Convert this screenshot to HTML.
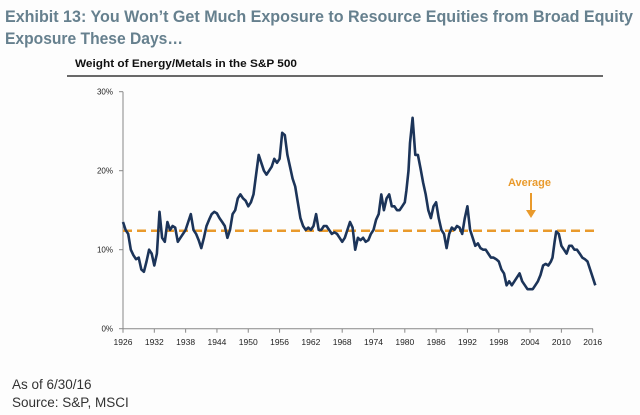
<!DOCTYPE html>
<html><head><meta charset="utf-8"><style>
body{margin:0;background:#fdfdfd;width:640px;height:415px;overflow:hidden;font-family:"Liberation Sans",sans-serif;}
svg{position:absolute;left:0;top:0}
</style></head><body>
<svg width="640" height="415">
<text x="5" y="22" font-size="16.5" font-weight="bold" fill="#66808e" textLength="628" lengthAdjust="spacingAndGlyphs">Exhibit 13: You Won’t Get Much Exposure to Resource Equities from Broad Equity</text>
<text x="5" y="44" font-size="16.5" font-weight="bold" fill="#66808e" textLength="178" lengthAdjust="spacingAndGlyphs">Exposure These Days…</text>
<text x="75" y="67" font-size="11" font-weight="bold" fill="#111" textLength="222" lengthAdjust="spacingAndGlyphs">Weight of Energy/Metals in the S&amp;P 500</text>
<line x1="67" y1="76" x2="603" y2="76" stroke="#111" stroke-width="1.3"/>
<g id="axes"></g>
<g id="plot"></g>
<text x="508" y="186" font-size="11" font-weight="bold" fill="#e99a2c">Average</text>
<line x1="531" y1="193" x2="531" y2="212" stroke="#e99a2c" stroke-width="2"/>
<polygon points="526,210 536,210 531,218" fill="#e99a2c"/>
<text x="12" y="389" font-size="13.5" fill="#333">As of 6/30/16</text>
<text x="12" y="407" font-size="13.5" fill="#333">Source: S&amp;P, MSCI</text>
</svg>
<script>
const years=[1926,1926.5,1927,1927.5,1928,1928.5,1929,1929.5,1930,1930.5,1931,1931.5,1932,1932.5,1933,1933.5,1934,1934.5,1935,1935.5,1936,1936.5,1937,1937.5,1938,1938.5,1939,1939.5,1940,1940.5,1941,1941.5,1942,1942.5,1943,1943.5,1944,1944.5,1945,1945.5,1946,1946.5,1947,1947.5,1948,1948.5,1949,1949.5,1950,1950.5,1951,1951.5,1952,1952.5,1953,1953.5,1954,1954.5,1955,1955.5,1956,1956.5,1957,1957.5,1958,1958.5,1959,1959.5,1960,1960.5,1961,1961.5,1962,1962.5,1963,1963.5,1964,1964.5,1965,1965.5,1966,1966.5,1967,1967.5,1968,1968.5,1969,1969.5,1970,1970.5,1971,1971.5,1972,1972.5,1973,1973.5,1974,1974.5,1975,1975.5,1976,1976.5,1977,1977.5,1978,1978.5,1979,1979.5,1980,1980.3,1980.7,1981,1981.5,1982,1982.5,1983,1983.5,1984,1984.5,1985,1985.5,1986,1986.5,1987,1987.5,1988,1988.5,1989,1989.5,1990,1990.5,1991,1991.5,1992,1992.5,1993,1993.5,1994,1994.5,1995,1995.5,1996,1996.5,1997,1997.5,1998,1998.5,1999,1999.5,2000,2000.5,2001,2001.5,2002,2002.5,2003,2003.5,2004,2004.5,2005,2005.5,2006,2006.5,2007,2007.5,2008,2008.3,2008.7,2009,2009.5,2010,2010.5,2011,2011.5,2012,2012.5,2013,2013.5,2014,2014.5,2015,2015.5,2016,2016.5];
const weights=[13.5,12.5,12,10,9.3,8.8,9,7.5,7.2,8.5,10,9.5,8,9.5,14.8,11.5,11,13.5,12.5,13,12.8,11,11.5,12,12.5,13.5,14.5,12.5,12,11.2,10.2,11.5,13,13.8,14.5,14.8,14.6,14,13.5,13,11.5,12.5,14.5,15,16.5,17,16.5,16.2,15.5,16,17,19.5,22,21,20,19.5,20,20.5,21.5,21,21.5,24.8,24.5,22,20.5,19,18,16,14,13,12.5,12.8,12.5,13,14.5,12.5,12.5,13,13,12.5,12,12.2,12,11.5,11,11.5,12.5,13.5,12.8,10,11.5,11.2,11.5,11,11.2,12,12.5,13.8,14.5,17,15,16.5,17,15.5,15.5,15,15,15.5,16,17.5,20,23.5,26.7,22,22,20.3,18.5,17,15,14,15.5,16,14,12.5,12,10.2,12,12.8,12.5,13,12.8,12,14,15.5,12.5,11.5,10.5,10.8,10.2,10,10,9.5,9,9,8.8,8.5,7.5,7,5.5,6,5.5,6,6.5,7,6,5.5,5,5,5,5.5,6,6.8,8,8.2,8,8.5,9,11,12.3,12,10.5,10,9.5,10.5,10.5,10,10,9.5,9,8.8,8.5,7.5,6.5,5.5,5.2,6];
const average=[12.4];
const yTicks=[0,10,20,30];
const xTicks=[1926,1932,1938,1944,1950,1956,1962,1968,1974,1980,1986,1992,1998,2004,2010,2016];
const X=y=>123+(y-1926)*(592.7-123)/90;
const Y=v=>328.7-v*7.9;
const NS="http://www.w3.org/2000/svg";
function mk(tag,attrs,parent,txt){const e=document.createElementNS(NS,tag);for(const k in attrs)e.setAttribute(k,attrs[k]);if(txt!=null)e.textContent=txt;parent.appendChild(e);return e;}
const ax=document.getElementById('axes'),pl=document.getElementById('plot');
let e=mk('line',{x1:123,y1:Y(30),x2:123,y2:Y(0),stroke:'#888','stroke-width':1},ax);


e=mk('line',{x1:123,y1:Y(0),x2:593,y2:Y(0),stroke:'#888','stroke-width':1},ax);


yTicks.forEach(t=>{
 mk('line',{x1:119,y1:Y(t),x2:123,y2:Y(t),stroke:'#888'},ax);
 const l=mk('text',{x:113,y:Y(t)+3,'font-size':8,'text-anchor':'end',fill:'#222'},ax,t+'%');
 
 
});
xTicks.forEach(t=>{
 mk('line',{x1:X(t),y1:Y(0),x2:X(t),y2:Y(0)+4,stroke:'#888'},ax);
 const l=mk('text',{x:X(t),y:345,'font-size':8.5,'text-anchor':'middle',fill:'#222'},ax,t);
 
 
});
e=mk('line',{x1:123,y1:Y(average[0]),x2:594,y2:Y(average[0]),stroke:'#e99a2c','stroke-width':2.5,'stroke-dasharray':'9,5'},pl);


e=mk('polyline',{points:years.map((y,i)=>X(y).toFixed(1)+','+Y(weights[i]).toFixed(1)).join(' '),fill:'none',stroke:'#1c3459','stroke-width':2.6,'stroke-linejoin':'round'},pl);


</script>
</body></html>
